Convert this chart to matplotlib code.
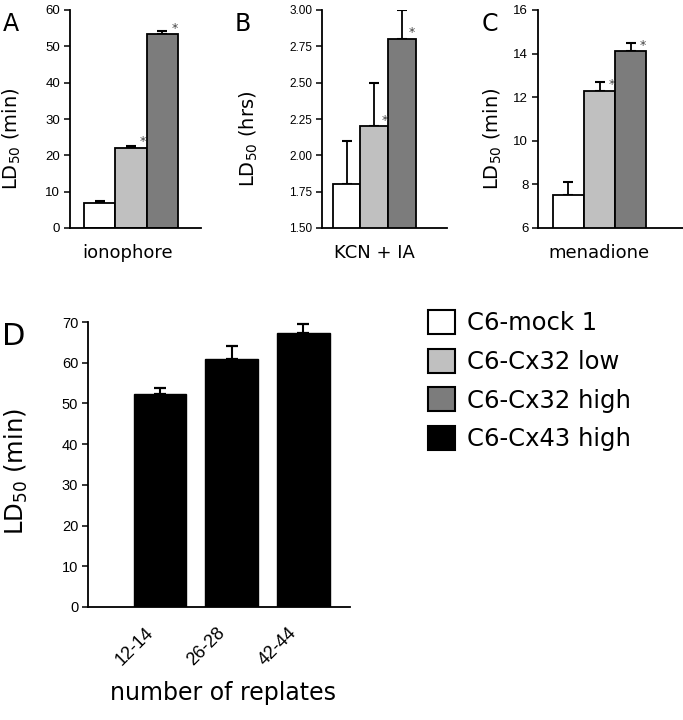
import numpy as np
import matplotlib
matplotlib.use("Agg")
import matplotlib.pyplot as plt
from matplotlib.patches import Patch
from matplotlib.transforms import ScaledTranslation

plt.rcParams['font.family'] = 'DejaVu Sans'
plt.rcParams['mathtext.fontset'] = 'dejavusans'

# data
groups = ["C6-mock 1", "C6-Cx32 low", "C6-Cx32 high", "C6-Cx43 high"]
colors = ["white", "#c0c0c0", "#7c7c7c", "black"]

iono_vals = [7.0, 22.1, 53.3]
iono_err = [0.4, 0.5, 1.0]
kcn_vals = [1.80, 2.20, 2.80]
kcn_err = [0.30, 0.30, 0.20]
mena_vals = [7.5, 12.3, 14.1]
mena_err = [0.6, 0.4, 0.4]
signif = [False, True, True]

replates = ["12-14", "26-28", "42-44"]
cx43_vals = [52.2, 61.0, 67.3]
cx43_err = [1.7, 3.0, 2.2]

W, H = 683, 720
fig = plt.figure(figsize=(6.83, 7.2), dpi=100)


def px_axes(left, right, top, bottom):
    return fig.add_axes([left / W, 1 - bottom / H, (right - left) / W, (bottom - top) / H])


def style(ax, tick_size):
    ax.spines['top'].set_visible(False)
    ax.spines['right'].set_visible(False)
    for s in ['left', 'bottom']:
        ax.spines[s].set_linewidth(1.3)
    ax.tick_params(axis='y', direction='out', length=4, width=1.1, labelsize=tick_size, pad=3)
    ax.tick_params(axis='x', length=0, labelbottom=False)
    for t in ax.get_yticklabels():
        t.set_fontfamily('Liberation Sans')


def small_panel(ax, vals, err, ylim, ticks, ticklabels, xlim, ylabel, xlabel, ylab_x, xlab_x, tick_size):
    x = np.arange(len(vals))
    ax.bar(x, vals, width=1.0, color=colors[:3], edgecolor='black', linewidth=1.3, zorder=2)
    ax.errorbar(x, vals, yerr=[np.zeros(len(vals)), err], fmt='none', ecolor='black',
                elinewidth=1.3, capsize=3.5, capthick=1.5, zorder=1)
    for i, (v, s) in enumerate(zip(vals, signif)):
        if s:
            ax.annotate('*', xy=(i + 0.5, v), xytext=(-2.5, 4.5), textcoords='offset points',
                        ha='center', va='center', fontsize=9, color='#444444')
    ax.set_xlim(*xlim)
    ax.set_ylim(*ylim)
    ax.set_yticks(ticks)
    ax.set_yticklabels(ticklabels)
    style(ax, tick_size)
    ax.set_ylabel(ylabel, fontsize=14)
    ax.yaxis.set_label_coords(ylab_x, 0.41)
    ax.set_xlabel(xlabel, fontsize=13)
    ax.xaxis.set_label_coords(xlab_x, -0.075)


axA = px_axes(70, 201, 10, 228)
small_panel(axA, iono_vals, iono_err, (0, 60), np.arange(0, 61, 10),
            [str(v) for v in range(0, 61, 10)], (-0.95, 3.24),
            'LD$_{50}$ (min)', 'ionophore', -0.355, 0.44, 9.5)

axB = px_axes(322, 447, 10, 228)
bt = [1.5, 1.75, 2.0, 2.25, 2.5, 2.75, 3.0]
small_panel(axB, kcn_vals, kcn_err, (1.5, 3.0), bt, ['%.2f' % v for v in bt], (-0.89, 3.64),
            'LD$_{50}$ (hrs)', 'KCN + IA', -0.5, 0.42, 8.5)

axC = px_axes(538, 683, 10, 228)
small_panel(axC, mena_vals, mena_err, (6, 16), np.arange(6, 17, 2),
            [str(v) for v in range(6, 17, 2)], (-0.98, 3.68),
            'LD$_{50}$ (min)', 'menadione', -0.235, 0.42, 9.5)

# panel D
axD = px_axes(88, 350, 322, 607)
xd = np.arange(len(replates))
axD.bar(xd, cx43_vals, width=0.73, color=colors[3], edgecolor='black', zorder=2)
axD.errorbar(xd, cx43_vals, yerr=[np.zeros(len(xd)), cx43_err], fmt='none', ecolor='black',
             elinewidth=1.5, capsize=4, capthick=1.6, zorder=1)
axD.set_xlim(-1.0, 2.65)
axD.set_ylim(0, 70)
axD.set_yticks(np.arange(0, 71, 10))
style(axD, 10.5)
axD.set_xticks(xd)
axD.set_xticklabels(replates)
axD.tick_params(axis='x', labelbottom=True, labelsize=13, pad=17)
shift = ScaledTranslation(-9 / 100, 0, fig.dpi_scale_trans)
for t in axD.get_xticklabels():
    t.set_rotation(45)
    t.set_ha('right')
    t.set_va('center')
    t.set_rotation_mode('anchor')
    t.set_fontfamily('Liberation Sans')
    t.set_transform(t.get_transform() + shift)
axD.set_ylabel('LD$_{50}$ (min)', fontsize=17.5)
axD.yaxis.set_label_coords(-0.222, 0.477)
axD.set_xlabel('number of replates', fontsize=17)
axD.xaxis.set_label_coords(0.515, -0.26)

# panel letters
fig.text(3 / W, 1 - 12 / H, 'A', fontsize=17, va='top')
fig.text(235 / W, 1 - 12 / H, 'B', fontsize=17, va='top')
fig.text(482 / W, 1 - 12 / H, 'C', fontsize=17, va='top')
fig.text(2 / W, 1 - 322 / H, 'D', fontsize=22, va='top')

handles = [Patch(facecolor=c, edgecolor='black', linewidth=1.5) for c in colors]
fig.legend(handles, groups, loc='upper left', bbox_to_anchor=(428 / W, 1 - 310 / H),
           frameon=False, fontsize=17.5, handlelength=1.1, handleheight=1.15,
           handletextpad=0.5, labelspacing=0.55, borderpad=0, borderaxespad=0)

fig.savefig('out.png', dpi=100)
